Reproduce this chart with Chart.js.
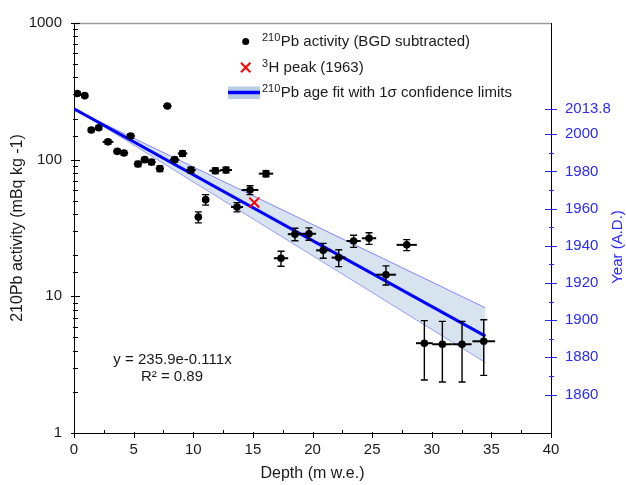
<!DOCTYPE html>
<html><head><meta charset="utf-8">
<script src="https://cdn.jsdelivr.net/npm/chart.js@4.4.1/dist/chart.umd.min.js"></script>
<style>html,body{margin:0;padding:0;background:#fff;}#wrap{width:626px;height:485px;position:relative;}</style>
</head><body><div id="wrap"><canvas id="c" width="626" height="485"></canvas></div>
<script>
// ---- data ----
const depth = [0.28,0.9,1.45,2.07,2.85,3.63,4.19,4.75,5.37,5.93,6.5,7.2,7.83,8.44,9.1,9.81,10.43,11.04,11.85,12.75,13.67,14.76,16.1,17.36,18.53,19.7,20.9,22.2,23.45,24.74,26.16,27.9,29.38,30.89,32.54,34.36];
const activity = [305,294,165,171,135,115,112,149,93,100,96,86,247,100,111,84,38,51,83,84,45,60,79,19,28.5,28.7,21.7,19.2,25.4,26.6,14.4,23.8,4.54,4.46,4.46,4.69];
const depthErr = [0.25,0.3,0.3,0.3,0.45,0.35,0.35,0.35,0.35,0.35,0.35,0.35,0.35,0.4,0.4,0.4,0.3,0.3,0.5,0.5,0.5,0.7,0.6,0.6,0.6,0.6,0.6,0.6,0.6,0.6,0.85,0.85,0.7,0.85,0.8,0.95];
const activityErr = [8,8,5,5,5,4,4,5,4,4,4,4,6,4,5,4,3.5,4.5,4,4,3.5,4.5,4,2.4,3,3,2.7,2.7,2.6,2.6,2.3,2.2,2.1,2.1,2.1,2.05];
const tritiumDepth = [15.12];
const tritiumActivity = [48.5];
const fitDepth = [0, 34.5];
const fitActivity = [235.9, 5.12];
const bandDepth = [2.0, 34.5];
const bandUpper = [192, 8.24];
const bandLower = [186, 3.28];
const depthTicks = [0,5,10,15,20,25,30,35,40];
const activityTicks = [1,10,100,1000];
const yearTicks = [1860,1880,1900,1920,1940,1960,1980,2000,2013.8];
const yearMinorTicks = [1870,1890,1910,1930,1950,1970,1990];
// legend labels: [superscript, rest]
const legendLabels = [['210','Pb activity (BGD subtracted)'],['3','H peak (1963)'],['210','Pb age fit with 1\u03C3 confidence limits']];
const fitText = ['y = 235.9e-0.111x','R\u00B2 = 0.89'];

const FONT = "'Liberation Sans', Arial, sans-serif";
Chart.defaults.font.family = FONT;
const BLUE = '#0000ff';
const AXBLUE = '#2a2aff';
const TXT = '#1a1a1a';

const zip = (a,b) => a.map((v,i)=>({x:v,y:b[i]}));

const decor = {
  id:'decor',
  afterDatasetsDraw(chart){
    const ctx = chart.ctx, xs = chart.scales.x, ys = chart.scales.y;
    ctx.save();
    ctx.strokeStyle = '#000';
    depth.forEach((d,i)=>{
      const px = xs.getPixelForValue(d), py = ys.getPixelForValue(activity[i]);
      const x0 = xs.getPixelForValue(d-depthErr[i]), x1 = xs.getPixelForValue(d+depthErr[i]);
      const y0 = ys.getPixelForValue(activity[i]+activityErr[i]), y1 = ys.getPixelForValue(Math.max(activity[i]-activityErr[i],0.01));
      ctx.lineWidth = 2;
      ctx.beginPath(); ctx.moveTo(x0,py); ctx.lineTo(x1,py); ctx.stroke();
      ctx.lineWidth = 1.4;
      ctx.beginPath(); ctx.moveTo(px,y0); ctx.lineTo(px,y1);
      ctx.moveTo(px-3.5,y0); ctx.lineTo(px+3.5,y0);
      ctx.moveTo(px-3.5,y1); ctx.lineTo(px+3.5,y1); ctx.stroke();
    });
    ctx.restore();
  },
  afterDraw(chart){
    const ctx = chart.ctx, xs = chart.scales.x, ys = chart.scales.y, yr = chart.scales.year;
    const {left,right,top,bottom} = chart.chartArea;
    ctx.save();
    ctx.strokeStyle = '#9a9a9a'; ctx.lineWidth = 1.5;
    ctx.beginPath(); ctx.moveTo(left, top+0.5); ctx.lineTo(right, top+0.5); ctx.stroke();
    ctx.strokeStyle = '#000'; ctx.lineWidth = 1;
    depthTicks.forEach((v,i)=>{
      const px = Math.round(xs.getPixelForValue(v))+0.5;
      ctx.beginPath(); ctx.moveTo(px,bottom-1); ctx.lineTo(px,bottom+5); ctx.stroke();
      if (i < depthTicks.length-1){
        const pm = Math.round(xs.getPixelForValue((v+depthTicks[i+1])/2))+0.5;
        ctx.beginPath(); ctx.moveTo(pm,bottom-3); ctx.lineTo(pm,bottom+1); ctx.stroke();
      }
    });
    ys.ticks.forEach(t=>{
      const py = Math.round(ys.getPixelForValue(t.value))+0.5;
      const major = activityTicks.includes(t.value);
      ctx.beginPath(); ctx.moveTo(left-(major?3:1), py); ctx.lineTo(left+(major?6:4), py); ctx.stroke();
    });
    ctx.strokeStyle = AXBLUE; ctx.lineWidth = 1;
    yearTicks.forEach(v=>{
      const py = Math.round(yr.getPixelForValue(v))+0.5;
      ctx.beginPath(); ctx.moveTo(right-6,py); ctx.lineTo(right+6,py); ctx.stroke();
    });
    yearMinorTicks.forEach(v=>{
      const py = Math.round(yr.getPixelForValue(v))+0.5;
      ctx.beginPath(); ctx.moveTo(right-2,py); ctx.lineTo(right+3,py); ctx.stroke();
    });
    // Right axis title
    ctx.fillStyle = AXBLUE; ctx.font = '15px '+FONT;
    ctx.textAlign = 'center'; ctx.textBaseline = 'middle';
    ctx.translate(618, 247); ctx.rotate(-Math.PI/2); ctx.fillText('Year (A.D.)',0,0);
    ctx.setTransform(1,0,0,1,0,0);
    // legend
    ctx.textAlign='left'; ctx.textBaseline='middle'; ctx.fillStyle=TXT;
    const lx = 262, rows = [41.5, 67.5, 92.5];
    legendLabels.forEach((p,i)=>{
      ctx.font = '11px '+FONT;
      ctx.fillText(p[0], lx, rows[i]-4);
      const w = ctx.measureText(p[0]).width;
      ctx.font = '15px '+FONT;
      ctx.fillText(p[1], lx + w + 0.5, rows[i]);
    });
    ctx.fillStyle = '#000'; ctx.beginPath(); ctx.arc(245.7, rows[0], 3.5, 0, Math.PI*2); ctx.fill();
    ctx.strokeStyle = '#ff0000'; ctx.lineWidth = 2;
    ctx.beginPath(); ctx.moveTo(241,rows[1]-4.7); ctx.lineTo(250.4,rows[1]+4.7);
    ctx.moveTo(250.4,rows[1]-4.7); ctx.lineTo(241,rows[1]+4.7); ctx.stroke();
    ctx.fillStyle = '#b8cce4'; ctx.fillRect(228, 86.5, 32, 12.5);
    ctx.strokeStyle = BLUE; ctx.lineWidth = 3.5;
    ctx.beginPath(); ctx.moveTo(228, 92.5); ctx.lineTo(260, 92.5); ctx.stroke();
    // fit equation
    ctx.font = '15px '+FONT;
    ctx.fillStyle = TXT; ctx.textAlign = 'center';
    ctx.fillText(fitText[0], 172.5, 359.5);
    ctx.fillText(fitText[1], 172, 377);
    ctx.restore();
  }
};

new Chart(document.getElementById('c'), {
  type:'scatter',
  data:{
    datasets:[
      {label:'band upper', data: zip(bandDepth, bandUpper), showLine:true, pointRadius:0, borderWidth:0.8,
       borderColor:'rgba(90,90,255,0.9)', backgroundColor:'rgba(184,204,228,0.55)', fill:'+1', order:3},
      {label:'band lower', data: zip(bandDepth, bandLower), showLine:true, pointRadius:0, borderWidth:0.8,
       borderColor:'rgba(90,90,255,0.9)', fill:false, order:4},
      {label:'fit', data: zip(fitDepth, fitActivity), showLine:true, pointRadius:0, borderWidth:3,
       borderColor:BLUE, fill:false, order:2},
      {label:'210Pb', data: zip(depth, activity), pointRadius:3.8, pointBackgroundColor:'#000', pointBorderColor:'#000',
       pointBorderWidth:0, order:1},
      {label:'3H', data: zip(tritiumDepth, tritiumActivity), pointStyle:'crossRot', pointRadius:7,
       pointBorderColor:'#ff0000', pointBorderWidth:2, order:0}
    ]
  },
  options:{
    responsive:false, animation:false, devicePixelRatio:1,
    layout:{padding:{top:20,left:0,right:0,bottom:0}},
    plugins:{legend:{display:false}, tooltip:{enabled:false}},
    scales:{
      x:{type:'linear', position:'bottom', min:0, max:40,
         afterBuildTicks: s => { s.ticks = depthTicks.map(v=>({value:v})); },
         ticks:{font:{size:15}, color:TXT, padding:8, autoSkip:false, maxRotation:0, callback:v=>String(v)},
         grid:{display:false, drawTicks:false},
         border:{display:true, color:'#000', width:1},
         title:{display:true, text:'Depth (m w.e.)', font:{size:16}, color:TXT, padding:{top:0,bottom:2}},
         afterFit: s => { s.height = 52; }},
      y:{type:'logarithmic', position:'left', min:1, max:1000,
         ticks:{font:{size:15}, color:TXT, padding:12, autoSkip:false,
                callback:v => activityTicks.includes(v) ? String(v) : ''},
         grid:{display:false, drawTicks:false},
         border:{display:true, color:'#000', width:1},
         title:{display:true, text:'210Pb activity (mBq kg -1)', font:{size:16}, color:TXT, padding:{top:8,bottom:0}},
         afterFit: s => { s.width = 74; }},
      year:{type:'linear', position:'right', min:1839.3, max:2059.8,
         afterBuildTicks: s => { s.ticks = yearTicks.map(v=>({value:v})); },
         ticks:{font:{size:15}, color:AXBLUE, padding:14, autoSkip:false, callback:v=>String(v)},
         grid:{display:false, drawTicks:false},
         border:{display:true, color:'#000', width:1},
         afterFit: s => { s.width = 75; }}
    }
  },
  plugins:[decor]
});
</script>
</body></html>
